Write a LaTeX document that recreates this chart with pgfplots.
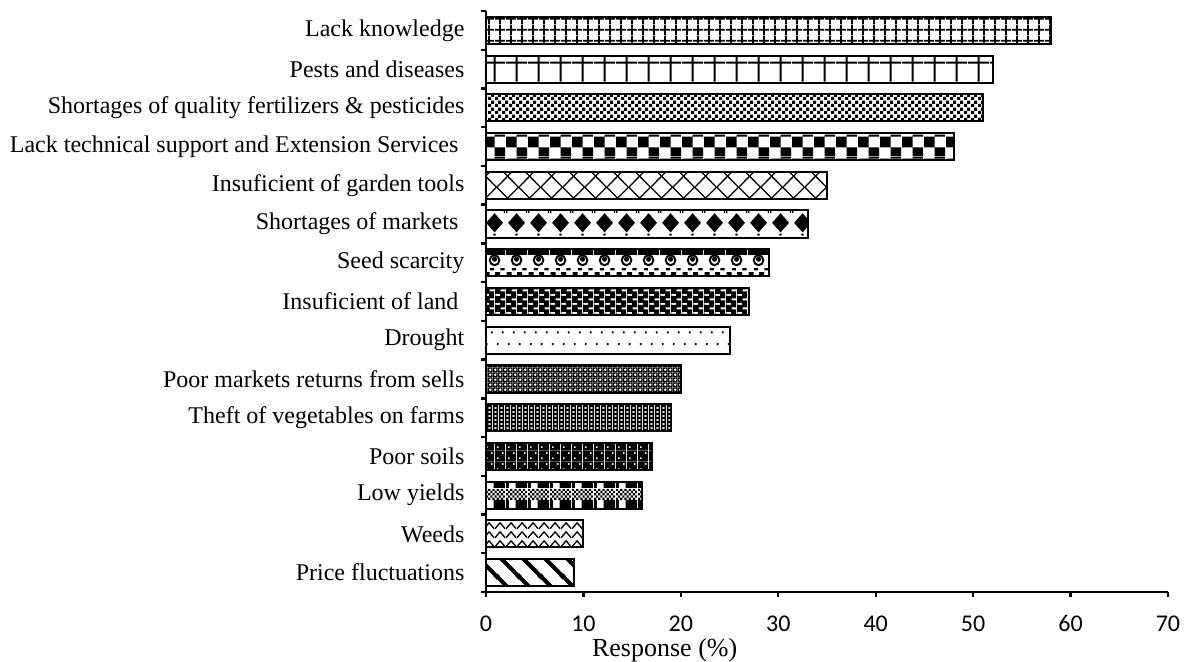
\documentclass[border=0pt]{standalone}
\usepackage{pgfplots}
\pgfplotsset{compat=1.18}
\usetikzlibrary{patterns}
\usepackage{fontspec}
\setmainfont{Liberation Serif}
\newfontfamily\tickfont{Carlito}

% tiles are in pt; bars are 19.3667pt apart, tall patterns use that period
\pgfdeclarepatternformonly{kgrid}{\pgfpointorigin}{\pgfqpoint{5.5pt}{5.5pt}}{\pgfqpoint{5.5pt}{5.5pt}}{%
  \pgfpathrectangle{\pgfqpoint{2.25pt}{0pt}}{\pgfqpoint{1pt}{5.5pt}}%
  \pgfpathrectangle{\pgfqpoint{0pt}{2.25pt}}{\pgfqpoint{5.5pt}{1pt}}%
  \pgfusepath{fill}}
\pgfdeclarepatternformonly{pests}{\pgfpointorigin}{\pgfqpoint{11pt}{19.3667pt}}{\pgfqpoint{11pt}{19.3667pt}}{%
  \pgfpathrectangle{\pgfqpoint{5pt}{0pt}}{\pgfqpoint{1pt}{19.3667pt}}%
  \pgfpathrectangle{\pgfqpoint{0pt}{8.7pt}}{\pgfqpoint{11pt}{1pt}}%
  \pgfusepath{fill}}
\pgfdeclarepatternformonly{schecker}{\pgfpointorigin}{\pgfqpoint{3.3pt}{3.3pt}}{\pgfqpoint{3.3pt}{3.3pt}}{%
  \pgfpathrectangle{\pgfqpoint{0pt}{0pt}}{\pgfqpoint{1.65pt}{1.65pt}}%
  \pgfpathrectangle{\pgfqpoint{1.65pt}{1.65pt}}{\pgfqpoint{1.65pt}{1.65pt}}%
  \pgfusepath{fill}}
\pgfdeclarepatternformonly{bchecker}{\pgfpointorigin}{\pgfqpoint{11pt}{11pt}}{\pgfqpoint{11pt}{11pt}}{%
  \pgfpathrectangle{\pgfqpoint{0pt}{4.5pt}}{\pgfqpoint{5.5pt}{5.5pt}}%
  \pgfpathrectangle{\pgfqpoint{5.5pt}{0pt}}{\pgfqpoint{5.5pt}{4.5pt}}%
  \pgfpathrectangle{\pgfqpoint{5.5pt}{10pt}}{\pgfqpoint{5.5pt}{1pt}}%
  \pgfusepath{fill}}
\pgfdeclarepatternformonly{lattice}{\pgfpointorigin}{\pgfqpoint{10.8pt}{10.8pt}}{\pgfqpoint{10.8pt}{10.8pt}}{%
  \pgfsetlinewidth{0.65pt}%
  \pgfpathmoveto{\pgfqpoint{-1pt}{-1pt}}\pgfpathlineto{\pgfqpoint{11.8pt}{11.8pt}}%
  \pgfpathmoveto{\pgfqpoint{-1pt}{11.8pt}}\pgfpathlineto{\pgfqpoint{11.8pt}{-1pt}}%
  \pgfusepath{stroke}}
\pgfdeclarepatternformonly{diamonds}{\pgfpointorigin}{\pgfqpoint{11pt}{19.3667pt}}{\pgfqpoint{11pt}{19.3667pt}}{%
  \pgfpathmoveto{\pgfqpoint{5.5pt}{1.8pt}}\pgfpathlineto{\pgfqpoint{9.9pt}{6.6pt}}%
  \pgfpathlineto{\pgfqpoint{5.5pt}{11.4pt}}\pgfpathlineto{\pgfqpoint{1.1pt}{6.6pt}}\pgfpathclose
  \pgfpathrectangle{\pgfqpoint{4.9pt}{0.2pt}}{\pgfqpoint{1.2pt}{1pt}}%
  \pgfpathrectangle{\pgfqpoint{0pt}{11.4pt}}{\pgfqpoint{0.7pt}{1.2pt}}%
  \pgfpathrectangle{\pgfqpoint{10.3pt}{11.4pt}}{\pgfqpoint{0.7pt}{1.2pt}}%
  \pgfusepath{fill}}
\pgfdeclarepatternformonly{seeds}{\pgfpointorigin}{\pgfqpoint{11pt}{19.3667pt}}{\pgfqpoint{11pt}{19.3667pt}}{%
  \pgfsetlinewidth{1pt}%
  \pgfpathcircle{\pgfqpoint{5.5pt}{7.4pt}}{2.5pt}%
  \pgfusepath{stroke}%
  \pgfpathrectangle{\pgfqpoint{0pt}{10pt}}{\pgfqpoint{11pt}{3pt}}%
  \pgfpathcircle{\pgfqpoint{5.5pt}{7.9pt}}{1.3pt}%
  \pgfpathrectangle{\pgfqpoint{0.3pt}{0pt}}{\pgfqpoint{2.6pt}{1.4pt}}%
  \pgfpathrectangle{\pgfqpoint{5.8pt}{0pt}}{\pgfqpoint{2.6pt}{1.4pt}}%
  \pgfpathrectangle{\pgfqpoint{3pt}{2.3pt}}{\pgfqpoint{2.2pt}{1.1pt}}%
  \pgfpathrectangle{\pgfqpoint{8.5pt}{2.3pt}}{\pgfqpoint{2.2pt}{1.1pt}}%
  \pgfusepath{fill}}
\pgfdeclarepatternformonly{dashes}{\pgfpointorigin}{\pgfqpoint{5.5pt}{4.7pt}}{\pgfqpoint{5.5pt}{4.7pt}}{%
  \pgfseteorule
  \pgfpathrectangle{\pgfqpoint{0pt}{0pt}}{\pgfqpoint{5.5pt}{4.7pt}}%
  \pgfpathrectangle{\pgfqpoint{0.25pt}{0.6pt}}{\pgfqpoint{2.5pt}{1pt}}%
  \pgfpathrectangle{\pgfqpoint{3pt}{2.95pt}}{\pgfqpoint{2.5pt}{1pt}}%
  \pgfusepath{fill}}
\pgfdeclarepatternformonly{sdots}{\pgfpointorigin}{\pgfqpoint{5.5pt}{12pt}}{\pgfqpoint{5.5pt}{12pt}}{%
  \pgfpathrectangle{\pgfqpoint{1pt}{2.5pt}}{\pgfqpoint{1pt}{1pt}}%
  \pgfpathrectangle{\pgfqpoint{3.75pt}{8.5pt}}{\pgfqpoint{1pt}{1pt}}%
  \pgfusepath{fill}}
\pgfdeclarepatternformonly{dholes}{\pgfpointorigin}{\pgfqpoint{2.6pt}{2.6pt}}{\pgfqpoint{2.6pt}{2.6pt}}{%
  \pgfseteorule
  \pgfpathrectangle{\pgfqpoint{0pt}{0pt}}{\pgfqpoint{2.6pt}{2.6pt}}%
  \pgfpathmoveto{\pgfqpoint{1.3pt}{0.4pt}}\pgfpathlineto{\pgfqpoint{2.2pt}{1.3pt}}%
  \pgfpathlineto{\pgfqpoint{1.3pt}{2.2pt}}\pgfpathlineto{\pgfqpoint{0.4pt}{1.3pt}}\pgfpathclose
  \pgfusepath{fill}}
\pgfdeclarepatternformonly{sholes}{\pgfpointorigin}{\pgfqpoint{2.8pt}{2.2pt}}{\pgfqpoint{2.8pt}{2.2pt}}{%
  \pgfseteorule
  \pgfpathrectangle{\pgfqpoint{0pt}{0pt}}{\pgfqpoint{2.8pt}{2.2pt}}%
  \pgfpathrectangle{\pgfqpoint{0.8pt}{0.6pt}}{\pgfqpoint{1.2pt}{1pt}}%
  \pgfusepath{fill}}
\pgfdeclarepatternformonly{bholes}{\pgfpointorigin}{\pgfqpoint{5.5pt}{5.6pt}}{\pgfqpoint{5.5pt}{5.6pt}}{%
  \pgfseteorule
  \pgfpathrectangle{\pgfqpoint{0pt}{0pt}}{\pgfqpoint{5.5pt}{5.6pt}}%
  \pgfpathrectangle{\pgfqpoint{1pt}{1pt}}{\pgfqpoint{0.9pt}{0.9pt}}%
  \pgfpathrectangle{\pgfqpoint{3.75pt}{3.8pt}}{\pgfqpoint{0.9pt}{0.9pt}}%
  \pgfusepath{fill}}
\pgfdeclarepatternformonly{yields}{\pgfpointorigin}{\pgfqpoint{11pt}{19.3667pt}}{\pgfqpoint{11pt}{19.3667pt}}{%
  \pgfpathrectangle{\pgfqpoint{0pt}{9.6pt}}{\pgfqpoint{1.5pt}{3.4pt}}%
  \pgfpathrectangle{\pgfqpoint{5pt}{9.6pt}}{\pgfqpoint{6pt}{3.4pt}}%
  \pgfpathrectangle{\pgfqpoint{0pt}{0pt}}{\pgfqpoint{1.5pt}{3.6pt}}%
  \pgfpathrectangle{\pgfqpoint{5pt}{0pt}}{\pgfqpoint{6pt}{3.6pt}}%
  \pgfpathrectangle{\pgfqpoint{0pt}{18.4pt}}{\pgfqpoint{1.5pt}{1pt}}%
  \pgfpathrectangle{\pgfqpoint{5pt}{18.4pt}}{\pgfqpoint{6pt}{1pt}}%
  \pgfusepath{fill}%
  \foreach \y in {3.6,5.8,8.0}{\foreach \x in {0,2.2,4.4,6.6,8.8}{%
    \pgfpathrectangle{\pgfpoint{\x pt}{\y pt}}{\pgfqpoint{1.1pt}{1.1pt}}\pgfusepath{fill}}}%
  \foreach \y in {4.7,6.9}{\foreach \x in {1.1,3.3,5.5,7.7,9.9}{%
    \pgfpathrectangle{\pgfpoint{\x pt}{\y pt}}{\pgfqpoint{1.1pt}{1.1pt}}\pgfusepath{fill}}}}
\pgfdeclarepatternformonly{zigzag}{\pgfpointorigin}{\pgfqpoint{5.5pt}{4.4pt}}{\pgfqpoint{5.5pt}{4.4pt}}{%
  \pgfsetlinewidth{0.7pt}%
  \pgfpathmoveto{\pgfqpoint{0pt}{0.6pt}}\pgfpathlineto{\pgfqpoint{2.75pt}{3.6pt}}%
  \pgfpathlineto{\pgfqpoint{5.5pt}{0.6pt}}%
  \pgfusepath{stroke}}
\pgfdeclarepatternformonly{stripes}{\pgfpointorigin}{\pgfqpoint{10.8pt}{10.8pt}}{\pgfqpoint{10.8pt}{10.8pt}}{%
  \pgfsetlinewidth{2pt}%
  \pgfpathmoveto{\pgfqpoint{-1pt}{11.8pt}}\pgfpathlineto{\pgfqpoint{11.8pt}{-1pt}}%
  \pgfpathmoveto{\pgfqpoint{-11.8pt}{11.8pt}}\pgfpathlineto{\pgfqpoint{1pt}{-1pt}}%
  \pgfpathmoveto{\pgfqpoint{9.8pt}{11.8pt}}\pgfpathlineto{\pgfqpoint{22.6pt}{-1pt}}%
  \pgfusepath{stroke}}

\pgfplotsset{
  pbar/.style={draw=black, line width=1pt, fill=white, bar shift=0pt,
    postaction={pattern=#1, pattern color=black}}}

\begin{document}
\begin{tikzpicture}
\path[use as bounding box] (-243pt,-35pt) rectangle (351pt,296pt);
\begin{axis}[
  at={(0,0)}, anchor=south west,
  width=341pt, height=290.5pt, scale only axis,
  xbar, bar width=0.7,
  xmin=0, xmax=70, ymin=0.5, ymax=15.5,
  axis lines*=left,
  axis line style={line width=1.2pt},
  tick align=outside,
  major tick length=2.6pt, minor tick length=2.6pt,
  tick style={line width=1.2pt, black},
  xtick={0,10,...,70},
  ytick={1,...,15},
  minor ytick={0.5,1.5,...,15.5},
  major y tick style={draw=none},
  yticklabels={Price fluctuations, Weeds, Low yields, Poor soils,
    Theft of vegetables on farms, Poor markets returns from sells, Drought,
    Insuficient of land\hspace*{3pt}, Seed scarcity, Shortages of markets\hspace*{3pt},
    Insuficient of garden tools,
    Lack technical support and Extension Services\hspace*{3pt},
    Shortages of quality fertilizers \& pesticides, Pests and diseases,
    Lack knowledge},
  yticklabel style={font=\fontsize{12}{14}\selectfont, inner sep=0pt, xshift=-8pt},
  /pgf/number format/assume math mode=true,
  xticklabel style={font=\tickfont\fontsize{12}{14}\selectfont, inner sep=0pt,
    anchor=base, yshift=-17.4pt},
  xlabel={Response (\%)},
  xlabel style={font=\fontsize{13}{15}\selectfont, at={(axis description cs:0.262,0)},
    anchor=center, yshift=-29pt},
  clip=false,
]
\addplot[pbar=stripes]  coordinates {(9,1)};
\addplot[pbar=zigzag]   coordinates {(10,2)};
\addplot[pbar=yields]   coordinates {(16,3)};
\addplot[pbar=bholes]   coordinates {(17,4)};
\addplot[pbar=sholes]   coordinates {(19,5)};
\addplot[pbar=dholes]   coordinates {(20,6)};
\addplot[pbar=sdots]    coordinates {(25,7)};
\addplot[pbar=dashes]   coordinates {(27,8)};
\addplot[pbar=seeds]    coordinates {(29,9)};
\addplot[pbar=diamonds] coordinates {(33,10)};
\addplot[pbar=lattice]  coordinates {(35,11)};
\addplot[pbar=bchecker] coordinates {(48,12)};
\addplot[pbar=schecker] coordinates {(51,13)};
\addplot[pbar=pests]    coordinates {(52,14)};
\addplot[pbar=kgrid]    coordinates {(58,15)};
\end{axis}
\end{tikzpicture}
\end{document}
